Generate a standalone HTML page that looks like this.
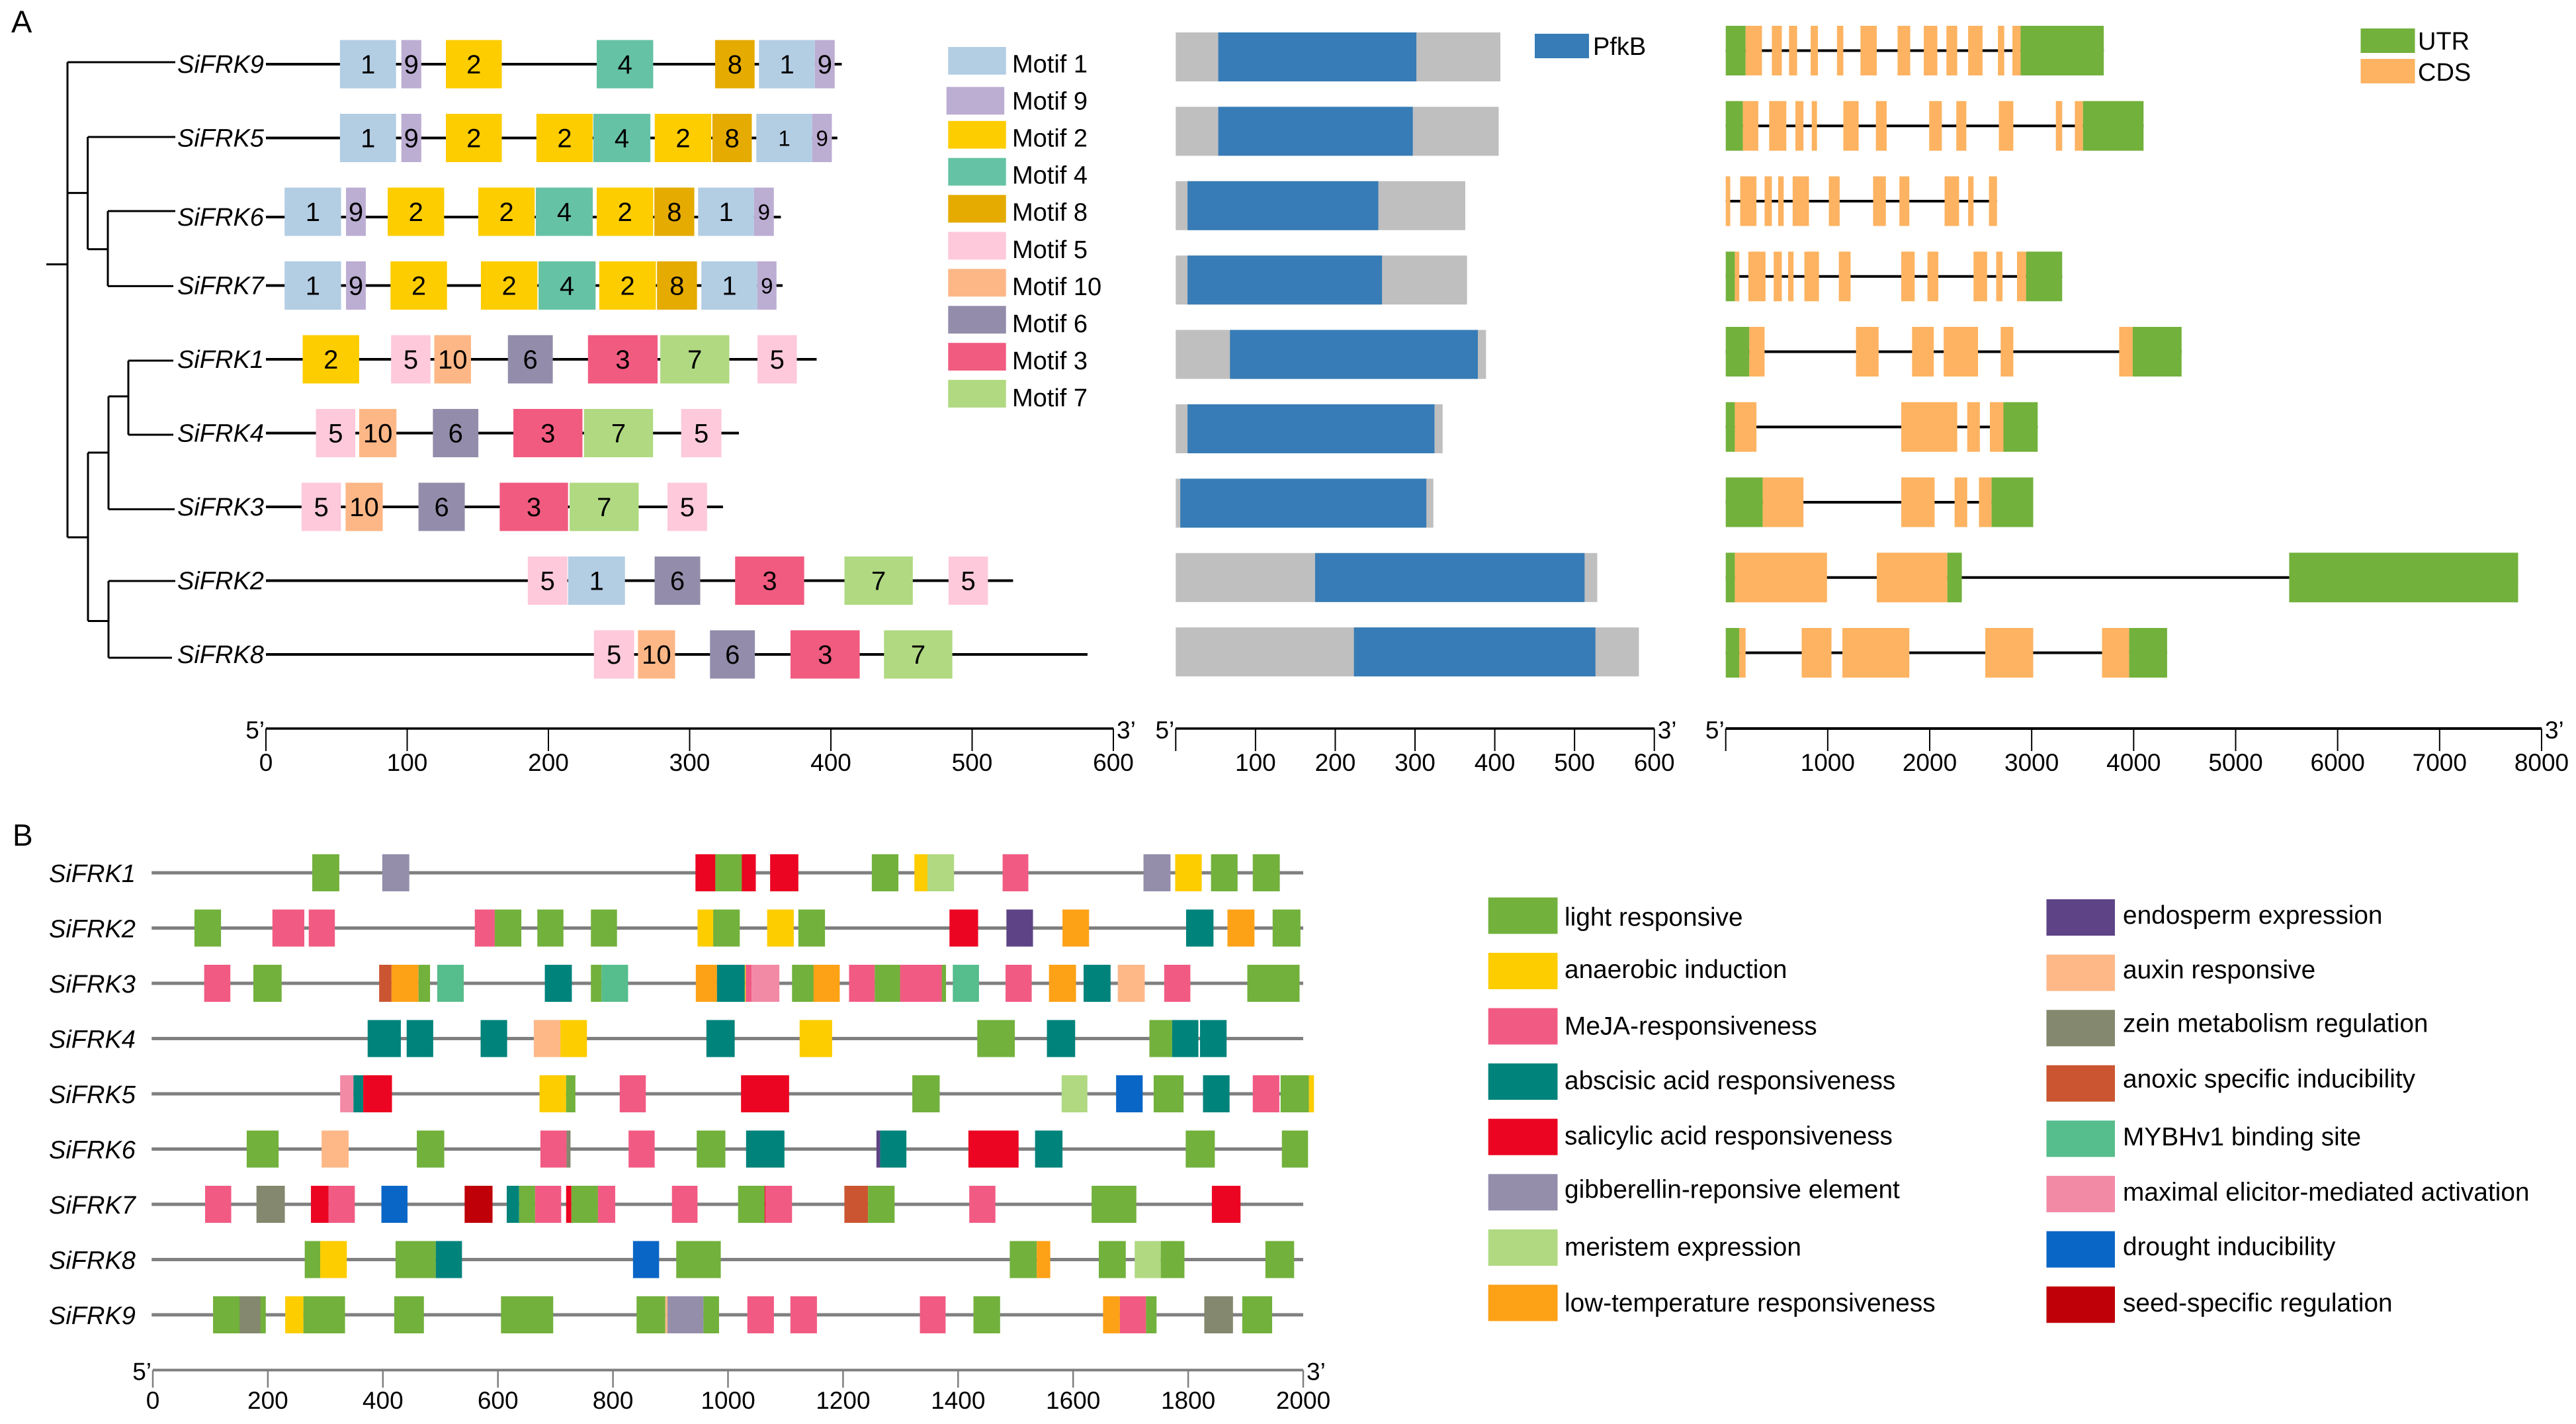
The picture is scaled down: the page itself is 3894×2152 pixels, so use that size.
<!DOCTYPE html>
<html lang="en">
<head>
<meta charset="utf-8">
<title>SiFRK gene family figure</title>
<style>
html,body{margin:0;padding:0;background:#fff;width:3894px;height:2152px;overflow:hidden}
svg{display:block;font-family:"Liberation Sans",Arial,sans-serif}
text{fill:#000}
</style>
</head>
<body>
<svg id="fig" xmlns="http://www.w3.org/2000/svg" width="3894" height="2152" viewBox="0 0 3894 2152">
<rect x="0" y="0" width="3894" height="2152" fill="#fff"/>
<text x="17" y="49" font-size="47">A</text>
<text x="19" y="1278" font-size="46">B</text>
<path fill="none" stroke="#000" stroke-width="3"
 d="M70 399.5H102M102 94V812M102 94H265M102 291.6H132.6M132.6 207V376.6M132.6 207H265M132.6 376.6H163M163 319V432.4M163 319H265M163 432.4H262M102 812H133M133 684V938.5M133 684H164M164 599V769.6M164 599H194M194 545V657M194 545H262M194 657H262M164 769.6H264M133 938.5H164M164 878V994M164 878H265M164 994H260"/>
<g id="motif-panel"></g>
<g id="domain-panel"></g>
<g id="gene-panel"></g>
<g id="cre-panel"></g>
<g id="legends"></g>
</svg>
<script>
/* ---------- Panel A: motifs (amino-acid positions) ---------- */
const motifGenes = ['SiFRK9','SiFRK5','SiFRK6','SiFRK7','SiFRK1','SiFRK4','SiFRK3','SiFRK2','SiFRK8'];
const motifLengths = [407.7,404.6,364.6,365.8,389.9,334.9,323.6,529,581.7];
const motifHits = [
 [[1,52.4,92.1],[9,95.9,110],[2,127.4,167],[4,234.2,274.2],[8,318,346],[1,349.1,388.7],[9,388.7,402.7]],
 [[1,52.4,92.1],[9,95.9,110],[2,127.4,167],[2,191.5,231.4],[4,231.8,272.2],[2,275.3,315.3],[8,316.1,344],[1,347.2,386.8,1],[9,386.8,400.7,1]],
 [[1,13.2,53.2],[9,56.7,70.7],[2,86.2,126.2],[2,150.3,190.3],[4,191.1,231.4],[2,234.2,274.2],[8,275,303.3],[1,306,345.6],[9,345.6,359.6,1]],
 [[1,13.2,53.2],[9,56.7,70.7],[2,88.2,128.2],[2,152.2,192.2],[4,193,233.4],[2,236,276.1],[8,276.9,305.2],[1,308.3,347.9],[9,347.9,361.5,1]],
 [[2,26,66],[5,88.6,116.5],[10,119.2,145.2],[6,171.3,203.1],[3,228,277.3],[7,279.2,328.1],[5,348,375.9]],
 [[5,35.4,63.3],[10,66,92.4],[6,118.2,150.4],[3,175.2,224.1],[7,225.2,274.1],[5,294,322.5]],
 [[5,25.2,53.1],[10,56.4,82.7],[6,108,140.8],[3,165.5,213.9],[7,215,263.9],[5,284.3,312.3]],
 [[5,185.4,213.4],[1,213.9,254.2],[6,275.2,307.5],[3,332.2,381.1],[7,409.6,458],[5,483.3,511.2]],
 [[5,232.2,260.7],[10,263.4,289.7],[6,314.4,346.2],[3,371.4,420.4],[7,437.6,486]]
];
const motifAxisTicks = [0,100,200,300,400,500,600];
const motifAxisLabels = ['0','100','200','300','400','500','600'];
const motifLegendOrder = [1,9,2,4,8,5,10,6,3,7];
const motifColors = {1:'#b3cde3',9:'#bcadd3',2:'#fdcd00',4:'#66c2a5',8:'#e5ab00',5:'#fec9db',10:'#fdb786',6:'#938dab',3:'#f15b80',7:'#b0d981'};

/* ---------- Panel A: PfkB domain ---------- */
const domainLengths = [407,404.9,363,365.2,389,334.6,323,528.5,580.7];
const pfkbStart = [53.3,53.3,14.8,14.8,68,14.8,5.7,174.7,223.4];
const pfkbEnd = [301.7,297.2,254,258.6,378.8,324.4,314.2,512.6,526.2];
const domainAxisTicks = [0,100,200,300,400,500,600];
const domainAxisLabels = ['','100','200','300','400','500','600'];

/* ---------- Panel A: gene structure (bp) ---------- */
const geneLengths = [3707,4097,2660,3299,4470,3059,3015,7770,4328];
const geneFeatures = [
 [['U',0,195],['C',195,355],['C',452,550],['C',621,700],['C',833,904],['C',1091,1153],['C',1321,1481],['C',1685,1809],['C',1942,2075],['C',2164,2270],['C',2377,2518],['C',2669,2731],['C',2811,2891],['U',2891,3707]],
 [['U',0,168],['C',168,319],['C',426,594],['C',683,762],['C',843,895],['C',1153,1303],['C',1472,1578],['C',1995,2119],['C',2261,2359],['C',2678,2820],['C',3237,3299],['C',3423,3503],['U',3503,4097]],
 [['C',0,44],['C',142,301],['C',381,452],['C',514,568],['C',656,816],['C',1011,1117],['C',1445,1570],['C',1703,1800],['C',2146,2288],['C',2377,2430],['C',2581,2660]],
 [['U',0,89],['C',89,133],['C',222,390],['C',470,550],['C',612,665],['C',771,914],['C',1109,1224],['C',1721,1853],['C',1978,2084],['C',2430,2563],['C',2652,2714],['C',2856,2945],['U',2945,3299]],
 [['U',0,231],['C',231,381],['C',1277,1499],['C',1827,2040],['C',2137,2474],['C',2696,2820],['C',3858,3991],['U',3991,4470]],
 [['U',0,89],['C',89,301],['C',1721,2270],['C',2368,2492],['C',2590,2723],['U',2723,3059]],
 [['U',0,363],['C',363,762],['C',1721,2048],['C',2244,2368],['C',2483,2607],['U',2607,3015]],
 [['U',0,89],['C',89,993],['C',1481,2173],['U',2173,2315],['U',5525,7770]],
 [['U',0,133],['C',133,195],['C',745,1037],['C',1144,1800],['C',2545,3015],['C',3690,3956],['U',3956,4328]]
];
const geneAxisTicks = [0,1000,2000,3000,4000,5000,6000,7000,8000];
const geneAxisLabels = ['','1000','2000','3000','4000','5000','6000','7000','8000'];
const geneColors = {U:'#72b13c',C:'#fdb361'};

/* ---------- Panel B: cis-acting elements (bp) ---------- */
const creGenes = ['SiFRK1','SiFRK2','SiFRK3','SiFRK4','SiFRK5','SiFRK6','SiFRK7','SiFRK8','SiFRK9'];
const creHits = [
 [['L',277.2,324.2],['G',398.9,445.9],['S',943.4,1048.3],['L',977.8,1024],['S',1073.2,1122.3],['L',1250,1296.2],['A',1324,1347.5],['E',1346.8,1393],['M',1477.4,1522.1],['G',1722.3,1769.3],['A',1777.4,1823.6],['L',1839.7,1885.9],['L',1912.3,1959.3]],
 [['L',72.4,118.6],['M',207.9,263.4],['M',271.1,316.5],['M',559.8,594.5],['L',594.5,640.7],['L',668.5,713.9],['L',761.6,807],['A',947,974.2],['L',974.2,1020.4],['A',1068,1114.3],['L',1122.3,1168.6],['S',1385,1434.8],['En',1484,1530.2],['T',1581.5,1627.7],['Ab',1796.4,1844],['T',1868.3,1915.2],['L',1946.8,1995.2]],
 [['M',89.3,134.8],['L',174.8,224],['An',393.5,415],['T',415,462],['L',462,482],['My',494.4,540.6],['Ab',681.5,728.5],['L',761.6,780],['My',780,826.3],['T',944,980.8],['Ab',980.8,1029.2],['A',1029.2,1030.7],['M',1030.7,1041],['Mx',1041,1089.3],['L',1111.3,1151],['T',1148.7,1194.2],['M',1210.4,1255.1],['L',1255.1,1379],['M',1299.1,1371.7],['My',1390.8,1436.3],['M',1482.5,1528],['T',1558,1605],['Ab',1618.2,1665.1],['Au',1677.6,1724.5],['M',1758.3,1803.8],['L',1902.8,1993.7]],
 [['Ab',373.5,431.2],['Ab',441.3,487.5],['Ab',569.9,616],['Au',662.3,708.5],['A',708.5,754.7],['Ab',962.4,1011.6],['A',1124.5,1181],['L',1433.3,1498.6],['Ab',1554.4,1603.5],['L',1732.6,1772.2],['Ab',1772.2,1817.7],['Ab',1820.6,1866.8]],
 [['Mx',325.7,348.8],['Ab',348.8,365.8],['S',365.8,415.8],['A',672.3,718.5],['L',718.5,734.7],['M',811.7,857.1],['S',1022.6,1106.2],['L',1320.4,1368],['E',1580,1624.8],['D',1674.7,1720.9],['L',1740,1792],['Ab',1825.8,1872],['M',1912.3,1958.5],['L',1960.7,2009.9],['A',2009.9,2018.7]],
 [['L',163.2,218.7],['Au',293.4,340.4],['L',459,506.7],['M',673.8,719.3],['Z',719.3,726.2],['M',827.1,872.5],['L',945.6,995.4],['Ab',1031.4,1098.1],['En',1258,1264.6],['Ab',1264.6,1310.1],['S',1417.9,1505.2],['Ab',1533.8,1581.5],['L',1795.7,1846.3],['L',1962.9,2008.4]],
 [['M',90.9,136.3],['Z',180.2,229.5],['S',274.9,305.7],['M',305.7,351.2],['D',397.4,442.8],['Se',542.1,590.6],['Ab',615.3,636.8],['L',636.8,664.6],['M',664.6,710],['S',718.5,727.7],['L',727.7,773.9],['M',773.9,803.9],['M',902.5,947],['L',1017.5,1063.7],['S',1063.7,1065.1],['M',1065.1,1111.3],['An',1202.3,1243.4],['L',1243.4,1289.6],['M',1419.4,1464.9],['L',1632.1,1709.9],['S',1841.2,1891]],
 [['L',264.1,291],['A',291,337.3],['L',422,492],['Ab',492,537.5],['D',834.8,880.2],['L',910,987.4],['L',1489.8,1536.8],['T',1536.8,1560.2],['L',1644.6,1691.5],['E',1707,1752.4],['L',1752.4,1793.5],['L',1934.3,1984.2]],
 [['L',104.7,196.4],['Z',150.9,187.1],['A',230.2,261.8],['L',261.8,334.2],['L',419.7,471.3],['L',605.3,696.1],['L',841,891],['Au',891,894.8],['G',894.8,957.3],['L',957.3,984.4],['M',1033.6,1079.8],['M',1108.4,1154.6],['M',1333.6,1378.3],['L',1426.7,1473],['T',1652,1681.3],['M',1681.3,1726.7],['L',1726.7,1745],['Z',1828,1877.9],['L',1894,1946]]
];
const creAxisTicks = [0,200,400,600,800,1000,1200,1400,1600,1800,2000];
const creAxisLabels = ['0','200','400','600','800','1000','1200','1400','1600','1800','2000'];
const creColors = {L:'#72b13c',A:'#fdcd00',M:'#f15b83',Ab:'#00837b',S:'#ec0522',G:'#948eab',E:'#b0d981',T:'#fda116',En:'#5e4486',Au:'#feb888',Z:'#83886e',An:'#cb5530',My:'#56bd8c',Mx:'#f28aa6',D:'#0a66c6',Se:'#bf0008'};
const creLegendLeft = [['L','light responsive'],['A','anaerobic induction'],['M','MeJA-responsiveness'],['Ab','abscisic acid responsiveness'],['S','salicylic acid responsiveness'],['G','gibberellin-reponsive element'],['E','meristem expression'],['T','low-temperature responsiveness']];
const creLegendRight = [['En','endosperm expression'],['Au','auxin responsive'],['Z','zein metabolism regulation'],['An','anoxic specific inducibility'],['My','MYBHv1 binding site'],['Mx','maximal elicitor-mediated activation'],['D','drought inducibility'],['Se','seed-specific regulation']];

/* ---------- scales ---------- */
const xMotif = v => 402 + v * 2.135;
const xDomain = v => 1777.3 + v * 1.2057;
const xGene = v => 2608.7 + v * 0.15416;
const xCre = v => 231 + v * 0.8695;
const yMotif = i => 97 + 111.5 * i;
const yDomain = i => 86 + 112.4 * i;
const yGene = i => 76.5 + 113.75 * i;
const yCre = i => 1319 + 83.5 * i;
const motifLineShift = name => name === 'SiFRK6' ? 8 : 0;

const NS = 'http://www.w3.org/2000/svg';
function rect(parent, x, y, w, h, fill) {
  const el = document.createElementNS(NS, 'rect');
  el.setAttribute('x', x); el.setAttribute('y', y);
  el.setAttribute('width', w); el.setAttribute('height', h);
  el.setAttribute('fill', fill);
  parent.appendChild(el);
  return el;
}
function line(parent, x1, y1, x2, y2, stroke, sw) {
  const el = document.createElementNS(NS, 'line');
  el.setAttribute('x1', x1); el.setAttribute('y1', y1);
  el.setAttribute('x2', x2); el.setAttribute('y2', y2);
  el.setAttribute('stroke', stroke); el.setAttribute('stroke-width', sw);
  parent.appendChild(el);
  return el;
}
function label(parent, x, y, str, size, anchor, italic) {
  const el = document.createElementNS(NS, 'text');
  el.setAttribute('x', x); el.setAttribute('y', y);
  el.setAttribute('font-size', size);
  if (anchor) el.setAttribute('text-anchor', anchor);
  if (italic) el.setAttribute('font-style', 'italic');
  el.textContent = str;
  parent.appendChild(el);
  return el;
}
function axis(parent, scale, ticks, labels, y, tickEnd, base, color, sw, tsw) {
  const main = line(parent, scale(ticks[0]), y, scale(ticks[ticks.length - 1]), y, color, sw);
  
  
  ticks.forEach((t, i) => {
    const tk = line(parent, scale(t), y, scale(t), tickEnd, color, tsw);
    
    
    if (labels[i]) {
      const tl = label(parent, scale(t), base, labels[i], 37, 'middle');
      
      
    }
  });
  const five = label(parent, scale(ticks[0]) - 2, y + 15, '5\u2019', 37, 'end');
  
  
  const three = label(parent, scale(ticks[ticks.length - 1]) + 5, y + 15, '3\u2019', 37, 'start');
  
  
}

/* ---------- motif panel ---------- */
const motifPanel = document.getElementById('motif-panel');
motifGenes.forEach((name, i) => {
  const cy = yMotif(i);
  const ly = cy + motifLineShift(name);
  const bb = line(motifPanel, xMotif(0), ly, xMotif(motifLengths[i]), ly, '#000', 4);
  
  
  const gn = label(motifPanel, 268, ly + 13, name, 38, 'start', true);
  
  
  motifHits[i].forEach(h => {
    const bx = rect(motifPanel, xMotif(h[1]), cy - 36.5, xMotif(h[2]) - xMotif(h[1]), 73, motifColors[h[0]]);
    
    
    const small = h[3] === 1;
    const mt = label(motifPanel, (xMotif(h[1]) + xMotif(h[2])) / 2, cy + (small ? 12 : 14), String(h[0]), small ? 33 : 40, 'middle');
    
    
  });
});
axis(motifPanel, xMotif, motifAxisTicks, motifAxisLabels, 1101, 1135, 1165, '#000', 3.5, 2);

/* ---------- domain panel ---------- */
const domainPanel = document.getElementById('domain-panel');
domainLengths.forEach((len, i) => {
  const cy = yDomain(i);
  const g = rect(domainPanel, xDomain(0), cy - 37, xDomain(len) - xDomain(0), 74, '#bfbfbf');
  
  
  const b = rect(domainPanel, xDomain(pfkbStart[i]), cy - 37, xDomain(pfkbEnd[i]) - xDomain(pfkbStart[i]), 74, '#377cb6');
  
  
});
axis(domainPanel, xDomain, domainAxisTicks, domainAxisLabels, 1101, 1135, 1165, '#000', 3.5, 2);

/* ---------- gene structure panel ---------- */
const genePanel = document.getElementById('gene-panel');
geneLengths.forEach((len, i) => {
  const cy = yGene(i);
  const bl = line(genePanel, xGene(0), cy, xGene(len), cy, '#000', 4);
  
  
  geneFeatures[i].forEach(f => {
    const ex = rect(genePanel, xGene(f[1]), cy - 37.5, xGene(f[2]) - xGene(f[1]), 75, geneColors[f[0]]);
    
    
  });
});
axis(genePanel, xGene, geneAxisTicks, geneAxisLabels, 1101, 1135, 1165, '#000', 4, 2);

/* ---------- cis-element panel ---------- */
const crePanel = document.getElementById('cre-panel');
creGenes.forEach((name, i) => {
  const cy = yCre(i);
  const bl = line(crePanel, xCre(-2), cy, xCre(2000), cy, '#7f7f7f', 5);
  
  
  const gn = label(crePanel, 74, cy + 14, name, 38, 'start', true);
  
  
  creHits[i].forEach(h => {
    const bx = rect(crePanel, xCre(h[1]), cy - 28, xCre(h[2]) - xCre(h[1]), 56, creColors[h[0]]);
    
    
  });
});
axis(crePanel, xCre, creAxisTicks, creAxisLabels, 2070.5, 2097, 2129, '#7f7f7f', 4, 2.5);

/* ---------- legends ---------- */
const legends = document.getElementById('legends');
motifLegendOrder.forEach((m, i) => {
  const top = 71 + i * 55.9 + (i === 1 ? 4.5 : 0);
  const sw = rect(legends, i === 1 ? 1430.7 : 1433.3, top, 87.4, 41.8, motifColors[m]);
  
  
  const t = label(legends, 1530, 109.3 + i * 56.1, 'Motif ' + m, 38, 'start');
  
  
});
const pfkbSwatch = rect(legends, 2320, 51, 82, 37, '#377cb6');


const pfkbText = label(legends, 2408, 83, 'PfkB', 38, 'start');


const utrSwatch = rect(legends, 3568.5, 43, 82, 37, geneColors.U);


const utrText = label(legends, 3655, 75, 'UTR', 38, 'start');


const cdsSwatch = rect(legends, 3568.5, 89, 82, 37, geneColors.C);


const cdsText = label(legends, 3655, 122, 'CDS', 38, 'start');



const leftBase = [1399,1478,1563.4,1646,1729.6,1810.4,1897.7,1982];
const rightBase = [1395.8,1478.4,1559.7,1643.7,1731,1814.6,1897.2,1982];
creLegendLeft.forEach((e, i) => {
  const sw = rect(legends, 2249.7, 1356.3 + i * 83.6, 104.8, 55, creColors[e[0]]);
  
  
  const t = label(legends, 2365, leftBase[i], e[1], 38.8, 'start');
  
  
});
creLegendRight.forEach((e, i) => {
  const sw = rect(legends, 3093.5, 1359 + i * 83.6, 103.5, 55, creColors[e[0]]);
  
  
  const t = label(legends, 3209, rightBase[i], e[1], 38.8, 'start');
  
  
});
</script>
</body>
</html>
